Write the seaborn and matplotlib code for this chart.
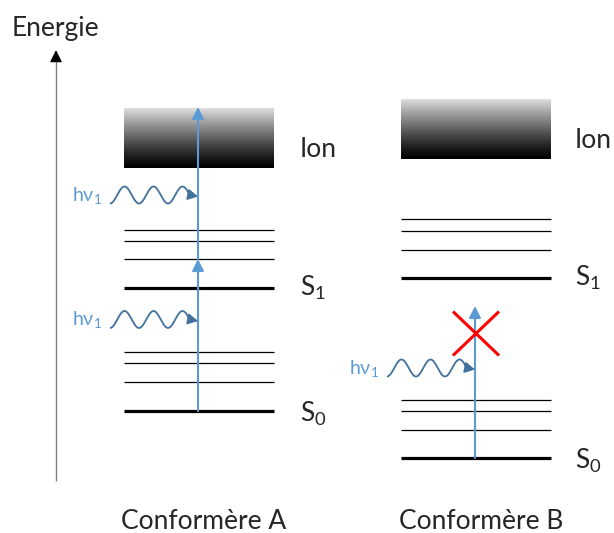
import numpy as np
import pandas as pd
import matplotlib.pyplot as plt
import seaborn as sns

# energy levels (arbitrary units, higher = more energy)
conformers = ['Conformère A', 'Conformère B']
s0_levels = [122, 75]
s1_levels = [245, 255]
s0_vib = [[151, 170, 181], [103, 122, 133]]
s1_vib = [[274, 292, 303], [283, 302, 314]]
ion_onset = [365, 374]
ion_top = [425, 434]
hv1 = 152
n_photons = [2, 1]
photon_marks = [[213.5, 338], [165]]
photon_label = 'hν$_1$'
state_labels = ['S$_0$', 'S$_1$', 'Ion']
axis_label = 'Energie'

# layout
level_x = [(124, 274), (401, 551)]
arrow_x = [198, 475]
label_x = [300, 575]
blue = '#5B9BD5'
dark_blue = '#41719C'

sns.set_theme(style='white')
plt.rcParams['font.family'] = ['Lato', 'DejaVu Sans']
plt.rcParams['mathtext.default'] = 'regular'
plt.rcParams['lines.solid_capstyle'] = 'butt'

fig = plt.figure(figsize=(6.14, 5.33), dpi=100)
ax = fig.add_axes([0, 0, 1, 1])

# level lines through seaborn
rows = []
for i, name in enumerate(conformers):
    x0, x1 = level_x[i]
    groups = [('elec', [s0_levels[i], s1_levels[i]]), ('vib', s0_vib[i] + s1_vib[i])]
    for kind, vals in groups:
        for j, e in enumerate(vals):
            lid = f'{name}-{kind}-{j}'
            rows.append(dict(lid=lid, kind=kind, x=x0, E=e))
            rows.append(dict(lid=lid, kind=kind, x=x1, E=e))
levels_df = pd.DataFrame(rows)
sns.lineplot(data=levels_df, x='x', y='E', units='lid', estimator=None,
             size='kind', sizes={'elec': 2.3, 'vib': 0.9}, color='black',
             legend=False, sort=False, ax=ax)

grad = np.linspace(0, 1, 256)[:, None]
for i in range(2):
    x0, x1 = level_x[i]
    # ionisation continuum as a grey gradient
    ax.imshow(0.87 * grad ** 1.2, extent=[x0, x1, ion_onset[i], ion_top[i]],
              origin='lower', cmap='gray', vmin=0, vmax=1, aspect='auto',
              interpolation='bilinear', zorder=1)

    # absorption arrows
    xa = arrow_x[i]
    for k in range(n_photons[i]):
        start = s0_levels[i] + k * hv1
        ax.annotate('', xy=(xa, start + hv1), xytext=(xa, start),
                    arrowprops=dict(arrowstyle='-|>,head_length=0.5,head_width=0.25',
                                    color=blue, lw=1.5, shrinkA=0, shrinkB=0,
                                    mutation_scale=14), zorder=4)

    # incoming photons
    for ec in photon_marks[i]:
        xs = np.linspace(xa - 88, xa - 8, 200)
        ys = ec + 8.5 * np.sin(-np.pi / 2 + 2 * np.pi * (xs - xs[0]) / 29)
        ax.plot(xs, ys, color=dark_blue, lw=1.3, zorder=4)
        ax.annotate('', xy=(xa, ec - 1.5), xytext=(xa - 9, ec + 0.3),
                    arrowprops=dict(arrowstyle='-|>,head_length=0.55,head_width=0.3',
                                    color=dark_blue, lw=1.2, shrinkA=0, shrinkB=0,
                                    mutation_scale=11), zorder=4)
        ax.text(xa - 126, ec - 6, photon_label, color=blue, fontsize=14,
                ha='left', va='baseline')

    # state labels
    ax.text(label_x[i], s0_levels[i] - 11, state_labels[0], fontsize=19, va='baseline')
    ax.text(label_x[i], s1_levels[i] - 8, state_labels[1], fontsize=19, va='baseline')
    ax.text(label_x[i], ion_onset[i] + 11, state_labels[2], fontsize=19, va='baseline')
    ax.text(np.mean(level_x[i]) + 5, 4, conformers[i], fontsize=19,
            ha='center', va='baseline')

# the blocked transition in conformer B
cx, cy = arrow_x[1] + 1, 199.5
ax.plot([cx - 23, cx + 23], [cy + 22, cy - 22], color='#FF0000', lw=2.2, zorder=5)
ax.plot([cx - 23, cx + 23], [cy - 22, cy + 22], color='#FF0000', lw=2.2, zorder=5)

# energy axis
ax.plot([56, 56], [52, 476], color='#7F7F7F', lw=1)
ax.annotate('', xy=(56, 483), xytext=(56, 472),
            arrowprops=dict(arrowstyle='-|>,head_length=0.6,head_width=0.3',
                            color='black', lw=1, shrinkA=0, shrinkB=0,
                            mutation_scale=12))
ax.text(12, 497, axis_label, fontsize=19, va='baseline')

ax.set_xlim(0, 614)
ax.set_ylim(0, 533)
ax.set_axis_off()

fig.savefig('out.png', dpi=100)
